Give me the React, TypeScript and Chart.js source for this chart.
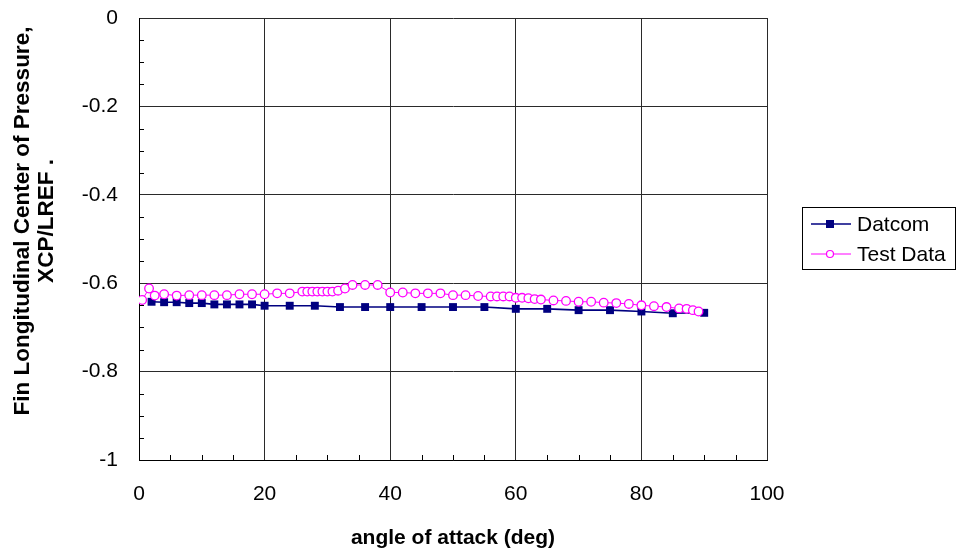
import React, { useEffect, useRef } from "react";
import { Chart, registerables } from "chart.js";

Chart.register(...registerables);

const datcomAlpha = [2, 4, 6, 8, 10, 12, 14, 16, 18, 20, 24, 28, 32, 36, 40, 45, 50, 55, 60, 65, 70, 75, 80, 85, 90];
const datcomXcp = [-0.642, -0.643, -0.643, -0.645, -0.645, -0.648, -0.648, -0.648, -0.648, -0.651, -0.651, -0.651, -0.654, -0.654, -0.654, -0.654, -0.654, -0.654, -0.658, -0.658, -0.661, -0.661, -0.664, -0.668, -0.667];

const testAlpha = [0.5, 1.6, 2.5, 4, 6, 8, 10, 12, 14, 16, 18, 20, 22, 24, 26, 26.8, 27.6, 28.4, 29.2, 30, 30.8, 31.7, 32.8, 34, 36, 38, 40, 42, 44, 46, 48, 50, 52, 54, 56, 57, 58, 59, 60, 61, 62, 63, 64, 66, 68, 70, 72, 74, 76, 78, 80, 82, 84, 86, 87.2, 88.2, 89.1];
const testXcp = [-0.638, -0.612, -0.628, -0.625, -0.628, -0.627, -0.627, -0.627, -0.627, -0.625, -0.625, -0.625, -0.623, -0.623, -0.619, -0.619, -0.619, -0.619, -0.619, -0.619, -0.619, -0.617, -0.612, -0.604, -0.604, -0.604, -0.621, -0.621, -0.623, -0.623, -0.623, -0.627, -0.627, -0.629, -0.630, -0.630, -0.630, -0.630, -0.633, -0.633, -0.634, -0.636, -0.637, -0.639, -0.640, -0.642, -0.642, -0.644, -0.645, -0.647, -0.650, -0.652, -0.654, -0.657, -0.658, -0.661, -0.664];

const seriesNames = ["Datcom", "Test Data"];
const xTitle = "angle of attack (deg)";
const yTitleLines = ["Fin Longitudinal Center of Pressure,", "XCP/LREF ."];

const FONT = "'Liberation Sans', Arial, sans-serif";
const NAVY = "#000080";
const MAGENTA = "#FF00FF";

const decorPlugin = {
  id: "decor",
  afterDraw(chart: any) {
    const ctx = chart.ctx;
    const xs = chart.scales.x;
    const ys = chart.scales.y;
    const area = chart.chartArea;
    ctx.save();
    // minor ticks
    ctx.strokeStyle = "#000";
    ctx.lineWidth = 1;
    ctx.beginPath();
    for (let v = 5; v < 100; v += 5) {
      if (v % 20 === 0) continue;
      const px = Math.round(xs.getPixelForValue(v)) + 0.5;
      ctx.moveTo(px, area.bottom);
      ctx.lineTo(px, area.bottom - 5);
    }
    for (let i = 1; i < 20; i++) {
      if (i % 4 === 0) continue;
      const py = Math.round(ys.getPixelForValue(-i * 0.05)) + 0.5;
      ctx.moveTo(area.left, py);
      ctx.lineTo(area.left + 5, py);
    }
    ctx.stroke();

    // axis titles
    ctx.fillStyle = "#000";
    ctx.font = `bold 21px ${FONT}`;
    ctx.textAlign = "center";
    ctx.textBaseline = "alphabetic";
    ctx.fillText(xTitle, (area.left + area.right) / 2, 544);
    ctx.save();
    ctx.font = `bold 22.5px ${FONT}`;
    ctx.translate(0, 221);
    ctx.rotate(-Math.PI / 2);
    ctx.fillText(yTitleLines[0], 0, 29);
    ctx.fillText(yTitleLines[1], 0, 53);
    ctx.restore();

    // legend
    const bx = 802, by = 207, bw = 153, bh = 62;
    ctx.strokeStyle = "#000";
    ctx.lineWidth = 1;
    ctx.strokeRect(bx + 0.5, by + 0.5, bw, bh);
    const rows = [
      { y: 224, color: NAVY, name: seriesNames[0], square: true },
      { y: 254, color: MAGENTA, name: seriesNames[1], square: false },
    ];
    for (const r of rows) {
      ctx.strokeStyle = r.color;
      ctx.lineWidth = r.square ? 1.5 : 1;
      ctx.beginPath();
      ctx.moveTo(811, r.y);
      ctx.lineTo(851, r.y);
      ctx.stroke();
      if (r.square) {
        ctx.fillStyle = r.color;
        ctx.fillRect(830 - 4, r.y - 4, 8, 8);
      } else {
        ctx.fillStyle = "#fff";
        ctx.beginPath();
        ctx.arc(830, r.y, 3.5, 0, Math.PI * 2);
        ctx.fill();
        ctx.strokeStyle = r.color;
        ctx.lineWidth = 1.2;
        ctx.stroke();
      }
      ctx.fillStyle = "#000";
      ctx.font = `21px ${FONT}`;
      ctx.textAlign = "left";
      ctx.textBaseline = "middle";
      ctx.fillText(r.name, 857, r.y + 1);
    }
    ctx.restore();
  },
};

const zeroPad = (s: any) => {
  s.paddingTop = 0;
  s.paddingBottom = 0;
  s.paddingLeft = 0;
  s.paddingRight = 0;
};

export default function App() {
  const ref = useRef<HTMLCanvasElement>(null);
  useEffect(() => {
    if (!ref.current) return;
    const chart = new Chart(ref.current, {
      type: "line",
      data: {
        datasets: [
          {
            label: seriesNames[1],
            data: testAlpha.map((x, i) => ({ x, y: testXcp[i] })),
            borderColor: MAGENTA,
            borderWidth: 1,
            pointStyle: "circle",
            pointRadius: 4.3,
            pointBorderWidth: 1.3,
            pointBorderColor: MAGENTA,
            pointBackgroundColor: "#fff",
            tension: 0,
          },
          {
            label: seriesNames[0],
            data: datcomAlpha.map((x, i) => ({ x, y: datcomXcp[i] })),
            borderColor: NAVY,
            borderWidth: 1.6,
            pointStyle: "rect",
            pointRadius: 5.6,
            pointBorderWidth: 0,
            pointBorderColor: NAVY,
            pointBackgroundColor: NAVY,
            tension: 0,
          },
        ],
      },
      options: {
        responsive: false,
        animation: false,
        events: [],
        layout: { padding: { left: 0, top: 18, right: 199, bottom: 0 } },
        plugins: { legend: { display: false }, tooltip: { enabled: false }, title: { display: false } },
        scales: {
          x: {
            type: "linear",
            min: 0,
            max: 100,
            ticks: { stepSize: 20, padding: 22, color: "#000", font: { family: FONT, size: 21 }, maxRotation: 0 },
            grid: { color: "#2a2a2a", lineWidth: 1, drawTicks: false },
            border: { color: "#000", width: 1 },
            title: { display: false },
            afterFit: (s: any) => { s.height = 93; zeroPad(s); },
          },
          y: {
            type: "linear",
            min: -1,
            max: 0,
            ticks: {
              stepSize: 0.2,
              padding: 21,
              color: "#000",
              font: { family: FONT, size: 21 },
              callback: (v: any) => String(Number(Number(v).toFixed(1))),
            },
            grid: { color: "#2a2a2a", lineWidth: 1, drawTicks: false },
            border: { color: "#000", width: 1 },
            title: { display: false },
            afterFit: (s: any) => { s.width = 139; zeroPad(s); },
          },
        },
      },
      plugins: [decorPlugin],
    });
    return () => chart.destroy();
  }, []);
  return (
    <div style={{ position: "absolute", left: 0, top: 0, width: 966, height: 553, background: "#fff" }}>
      <canvas ref={ref} width={966} height={553} style={{ display: "block" }} />
    </div>
  );
}
